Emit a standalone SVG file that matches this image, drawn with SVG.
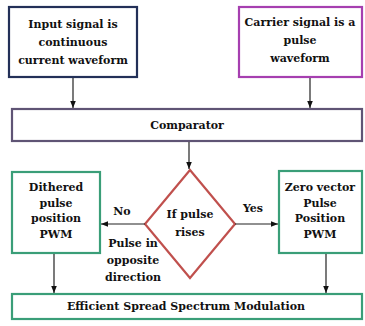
<svg xmlns="http://www.w3.org/2000/svg" width="365" height="326" viewBox="0 0 365 326">
<defs>
<marker id="ah" viewBox="0 0 10 10" refX="10" refY="5" markerWidth="7" markerHeight="7" orient="auto-start-reverse" markerUnits="userSpaceOnUse">
<path d="M0,1 L10,5 L0,9 z" fill="#111"/>
</marker>
<style>
text{font-family:'DejaVu Serif','Liberation Serif',serif;font-weight:bold;font-size:11px;fill:#111;text-anchor:middle}
.b{fill:#fff;stroke-width:2.2}
.c{stroke:#222;stroke-width:1.2;fill:none;marker-end:url(#ah)}
</style>
</defs>
<rect width="365" height="326" fill="#fff"/>
<g id="input">
<rect class="b" x="9" y="7" width="128" height="70" stroke="#233058"/>
<text x="73" y="28">Input signal is</text>
<text x="73" y="46">continuous</text>
<text x="73" y="64">current waveform</text>
</g>
<g id="carrier">
<rect class="b" x="239" y="7" width="123" height="70" stroke="#a63fb0"/>
<text x="300" y="26">Carrier signal is a</text>
<text x="300" y="44">pulse</text>
<text x="300" y="62">waveform</text>
</g>
<g id="comparator">
<rect class="b" x="12" y="109" width="350" height="32" stroke="#5f5475"/>
<text x="187" y="129">Comparator</text>
</g>
<g id="decision">
<polygon points="190,170 235,224 190,278 145,224" fill="#fff" stroke="#c0504d" stroke-width="2.2"/>
<text x="190" y="218">If pulse</text>
<text x="190" y="236">rises</text>
</g>
<g id="dithered">
<rect class="b" x="12" y="172" width="88" height="81" stroke="#3a9e78"/>
<text x="56" y="191">Dithered</text>
<text x="56" y="207">pulse</text>
<text x="56" y="222">position</text>
<text x="56" y="238">PWM</text>
</g>
<g id="zerovector">
<rect class="b" x="279" y="171" width="83" height="82" stroke="#3a9e78"/>
<text x="320" y="191">Zero vector</text>
<text x="320" y="207">Pulse</text>
<text x="320" y="222">Position</text>
<text x="320" y="238">PWM</text>
</g>
<g id="output">
<rect class="b" x="12" y="294" width="350" height="25" stroke="#3a9e78"/>
<text x="186" y="310">Efficient Spread Spectrum Modulation</text>
</g>
<g id="connectors">
<line class="c" x1="73" y1="78" x2="73" y2="108"/>
<line class="c" x1="310" y1="78" x2="310" y2="108"/>
<line class="c" x1="189" y1="142" x2="189" y2="169"/>
<line class="c" x1="145" y1="224" x2="101" y2="224"/>
<line class="c" x1="235" y1="224" x2="278" y2="224"/>
<line class="c" x1="54" y1="254" x2="54" y2="293"/>
<line class="c" x1="326" y1="254" x2="326" y2="293"/>
<text x="122" y="215">No</text>
<text x="253" y="212">Yes</text>
<text x="133" y="247">Pulse in</text>
<text x="133" y="264">opposite</text>
<text x="133" y="281">direction</text>
</g>
</svg>
